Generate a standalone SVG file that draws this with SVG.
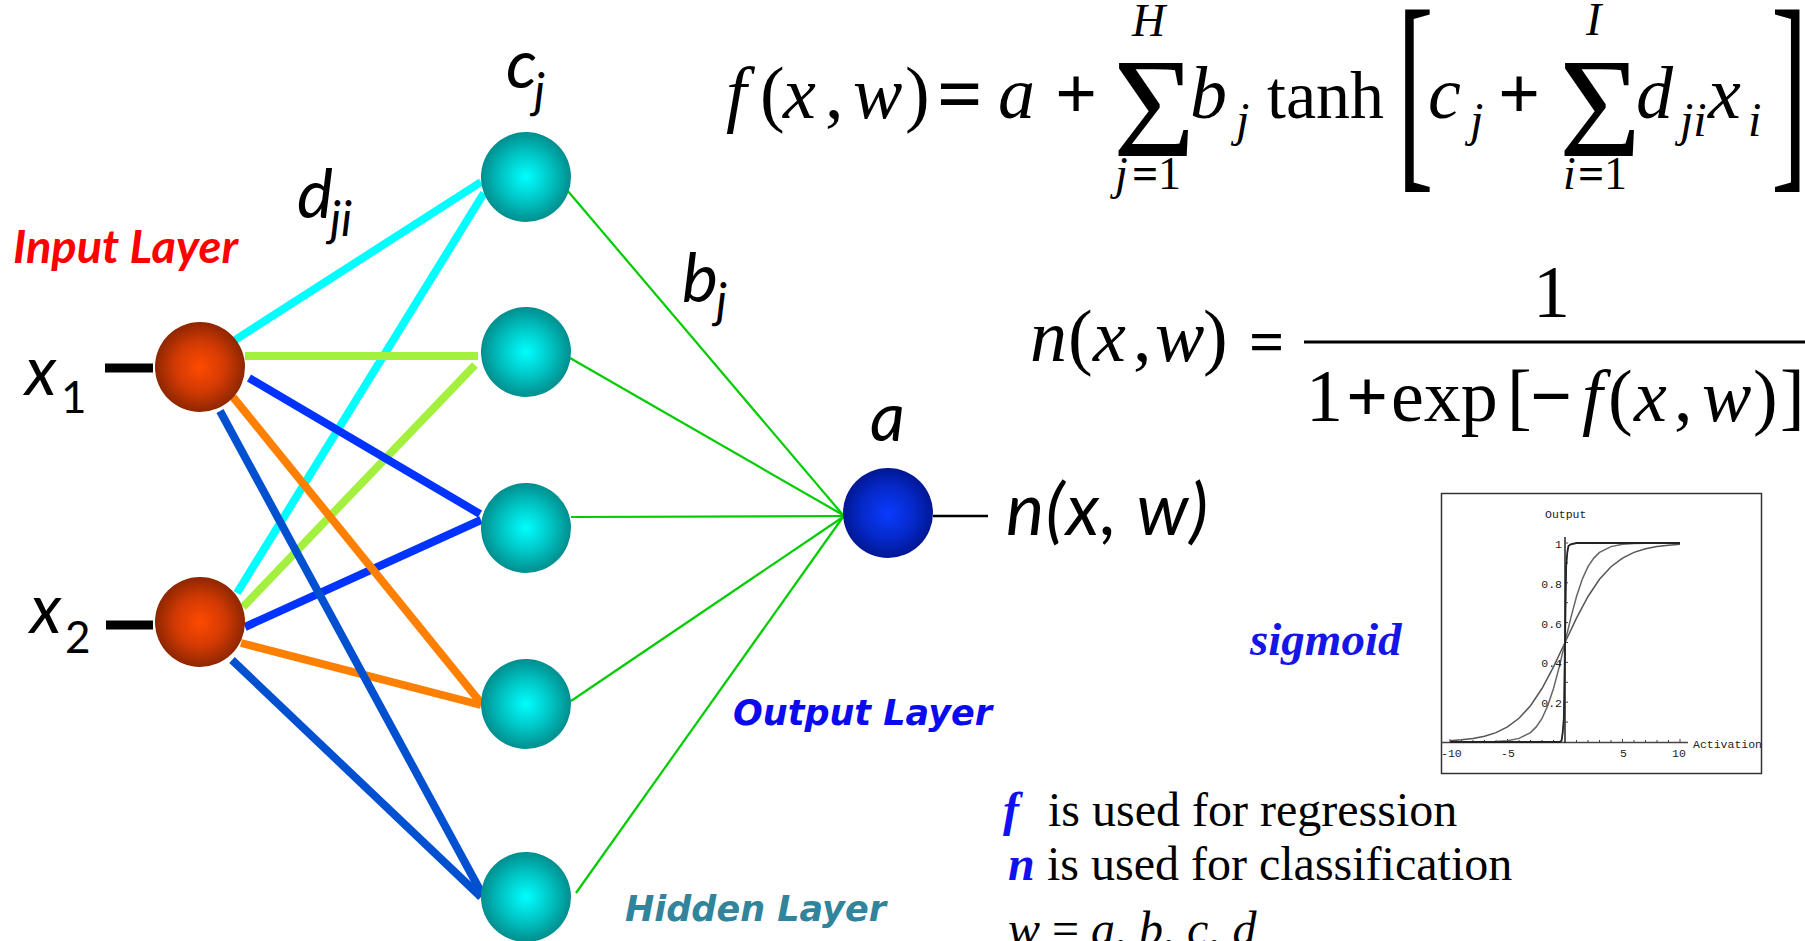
<svg xmlns="http://www.w3.org/2000/svg" width="1805" height="941" viewBox="0 0 1805 941">
<defs>
  <radialGradient id="gIn" cx="50%" cy="50%" r="50%">
    <stop offset="0" stop-color="#FF4A00"/>
    <stop offset="0.55" stop-color="#D23A04"/>
    <stop offset="1" stop-color="#8E2600"/>
  </radialGradient>
  <radialGradient id="gHid" cx="50%" cy="50%" r="50%">
    <stop offset="0" stop-color="#00FFFF"/>
    <stop offset="0.55" stop-color="#00C4C4"/>
    <stop offset="1" stop-color="#008E8E"/>
  </radialGradient>
  <radialGradient id="gOut" cx="50%" cy="50%" r="50%">
    <stop offset="0" stop-color="#0A3CFF"/>
    <stop offset="0.6" stop-color="#0528C8"/>
    <stop offset="1" stop-color="#001894"/>
  </radialGradient>
  <style>
    .lbl { font-family: Lato, "Open Sans", sans-serif; font-style: italic; fill: #000; }
    .big { font-size: 68px; }
    .sub { font-size: 48px; }
    .ser { font-family: "Liberation Serif", "Times New Roman", serif; }
    .it { font-style: italic; }
    .bd { font-weight: bold; }
    .mono { font-family: "Liberation Mono", "Courier New", monospace; font-size: 11.5px; fill: #222; }
    .wide { stroke-width: 8; fill: none; }
    .thin { stroke: #00CC00; stroke-width: 2.2; fill: none; }
    .layer { font-family: "DejaVu Sans", Verdana, sans-serif; font-weight: bold; font-style: oblique; font-size: 35px; }
  </style>
</defs>
<rect width="1805" height="941" fill="#FFFFFF"/>

<!-- connectors -->
<g id="connectors">
  <line class="wide" stroke="#00FFFF" x1="235" y1="340" x2="481" y2="182"/>
  <line class="wide" stroke="#00FFFF" x1="237" y1="593" x2="484" y2="193"/>
  <line class="wide" stroke="#A4F03E" x1="245" y1="356" x2="478" y2="356"/>
  <line class="wide" stroke="#A4F03E" x1="243" y1="607" x2="475" y2="365"/>
  <line class="wide" stroke="#0033FF" x1="249" y1="378" x2="480" y2="514"/>
  <line class="wide" stroke="#0033FF" x1="245" y1="627" x2="481" y2="520"/>
  <line class="wide" stroke="#FF8000" x1="233" y1="397" x2="481" y2="703"/>
  <line class="wide" stroke="#FF8000" x1="241" y1="643" x2="481" y2="705"/>
  <line class="wide" stroke="#0050D0" x1="220" y1="411" x2="481" y2="892"/>
  <line class="wide" stroke="#0050D0" x1="232" y1="660" x2="481" y2="897"/>
  <line class="thin" x1="567" y1="190" x2="843" y2="515"/>
  <line class="thin" x1="570" y1="358" x2="843" y2="515"/>
  <line class="thin" x1="571" y1="517" x2="843" y2="516"/>
  <line class="thin" x1="571" y1="701" x2="843" y2="517"/>
  <line class="thin" x1="576" y1="893" x2="843" y2="517"/>
  <line stroke="#000" stroke-width="9" x1="105" y1="368" x2="153" y2="368"/>
  <line stroke="#000" stroke-width="9" x1="106" y1="625" x2="153" y2="625"/>
  <line stroke="#000" stroke-width="2.5" x1="933" y1="516" x2="988" y2="516"/>
</g>

<!-- input nodes -->
<g id="node-x1">
  <circle cx="200" cy="367" r="45" fill="url(#gIn)"/>
  <text class="lbl big" x="25" y="395">x</text>
  <text class="lbl" x="61" y="413" style="font-style:normal;font-size:44px">1</text>
</g>
<g id="node-x2">
  <circle cx="200" cy="622" r="45" fill="url(#gIn)"/>
  <text class="lbl big" x="30" y="633">x</text>
  <text class="lbl" x="65" y="653" style="font-style:normal;font-size:44px">2</text>
</g>

<!-- hidden nodes -->
<g id="node-h1"><circle cx="526" cy="177" r="45" fill="url(#gHid)"/></g>
<g id="node-h2"><circle cx="526" cy="352" r="45" fill="url(#gHid)"/></g>
<g id="node-h3"><circle cx="526" cy="528" r="45" fill="url(#gHid)"/></g>
<g id="node-h4"><circle cx="526" cy="704" r="45" fill="url(#gHid)"/></g>
<g id="node-h5"><circle cx="526" cy="897" r="45" fill="url(#gHid)"/></g>

<!-- output node -->
<g id="node-out">
  <circle cx="888" cy="513" r="45" fill="url(#gOut)"/>
  <text class="lbl big" x="870" y="441">a</text>
  <text class="lbl" x="1006" y="535" style="font-size:72px" textLength="202" lengthAdjust="spacing">n(x, w)</text>
</g>

<!-- weight labels -->
<g id="labels">
  <text class="lbl big" x="506" y="88">c</text>
  <text class="lbl sub" x="534" y="108">j</text>
  <text class="lbl big" x="297" y="218">d</text>
  <text class="lbl sub" x="330" y="236">ji</text>
  <text class="lbl big" x="682" y="302">b</text>
  <text class="lbl sub" x="716" y="318">j</text>
  <text x="13" y="263" textLength="225" lengthAdjust="spacingAndGlyphs" style="font-family: Lato, 'Open Sans', sans-serif; font-weight: bold; font-style: italic; font-size: 45px; fill: #FF0000">Input Layer</text>
  <text class="layer" x="733" y="725" fill="#0A0AEE">Output Layer</text>
  <text class="layer" x="625" y="921" fill="#31849B">Hidden Layer</text>
</g>

<!-- f equation -->
<g id="eq-f" class="ser" font-size="74" fill="#000">
  <text y="118"><tspan x="726" class="it">f</tspan><tspan x="760">(</tspan><tspan x="783" class="it">x</tspan><tspan x="825">,</tspan><tspan x="853" class="it">w</tspan><tspan x="905">)</tspan></text>
  <text x="937" y="121" font-size="80" class="bd">=</text>
  <text x="998" y="118" class="it">a</text>
  <text x="1055" y="118" class="bd">+</text>
  <text x="1113" y="156" font-size="141">Σ</text>
  <text x="1132" y="36" font-size="46" class="it">H</text>
  <text y="189" font-size="46"><tspan x="1115" class="it">j</tspan><tspan x="1132" class="bd">=</tspan><tspan x="1158">1</tspan></text>
  <text x="1190" y="118" class="it">b</text>
  <text x="1236" y="136" font-size="48" class="it">j</text>
  <text x="1267" y="118" font-size="68">tanh</text>
  <text transform="translate(1397,162) scale(1,2)" font-size="110">[</text>
  <text x="1428" y="118" class="it">c</text>
  <text x="1470" y="136" font-size="48" class="it">j</text>
  <text x="1498" y="118" class="bd">+</text>
  <text x="1559" y="156" font-size="141">Σ</text>
  <text x="1586" y="35" font-size="46" class="it">I</text>
  <text y="189" font-size="46"><tspan x="1563" class="it">i</tspan><tspan x="1578" class="bd">=</tspan><tspan x="1604">1</tspan></text>
  <text x="1636" y="118" class="it">d</text>
  <text x="1680" y="136" font-size="48" class="it">ji</text>
  <text x="1708" y="118" class="it">x</text>
  <text x="1748" y="136" font-size="48" class="it">i</text>
  <text transform="translate(1771,162) scale(1,2)" font-size="110">]</text>
</g>

<!-- n equation -->
<g id="eq-n" class="ser" font-size="74" fill="#000">
  <text y="361"><tspan x="1030" class="it">n</tspan><tspan x="1068">(</tspan><tspan x="1093" class="it">x</tspan><tspan x="1133">,</tspan><tspan x="1155" class="it">w</tspan><tspan x="1203">)</tspan></text>
  <text x="1249" y="362" font-size="62" class="bd">=</text>
  <rect x="1304" y="340.5" width="501" height="3" fill="#000"/>
  <text x="1533" y="317">1</text>
  <text y="421"><tspan x="1306">1</tspan><tspan x="1346" class="bd">+</tspan><tspan x="1391">exp</tspan><tspan x="1507">[</tspan><tspan x="1530" class="bd">−</tspan><tspan x="1582" class="it">f</tspan><tspan x="1608">(</tspan><tspan x="1634" class="it">x</tspan><tspan x="1674">,</tspan><tspan x="1702" class="it">w</tspan><tspan x="1753">)</tspan><tspan x="1780">]</tspan></text>
</g>

<!-- sigmoid plot -->
<g id="sigmoid-plot">
  <text x="1250" y="655" class="ser it bd" font-size="47" style="fill:#1515E8">sigmoid</text>
  <rect x="1441.5" y="493.5" width="320" height="280" fill="#FFFFFF" stroke="#333" stroke-width="1.5"/>
  <line x1="1441" y1="742.5" x2="1688" y2="742.5" stroke="#444" stroke-width="1.5"/>
  <line x1="1565" y1="537" x2="1565" y2="743" stroke="#222" stroke-width="1.5"/>
  <path d="M1450 742v-3M1461.5 742v-2M1473 742v-2M1484.5 742v-2M1496 742v-2M1507.5 742v-3M1519 742v-2M1530.5 742v-2M1542 742v-2M1553.5 742v-2M1576.5 742v-2M1588 742v-2M1599.5 742v-2M1611 742v-2M1622.5 742v-3M1634 742v-2M1645.5 742v-2M1657 742v-2M1668.5 742v-2M1680 742v-3" stroke="#444" stroke-width="1"/>
  <path d="M1565 722.1h3M1565 702.2h3M1565 682.3h3M1565 662.4h3M1565 642.5h3M1565 622.6h3M1565 602.7h3M1565 582.8h3M1565 562.9h3M1565 543h3" stroke="#444" stroke-width="1"/>
  <path d="M1450 740.7L1461.5 739.8L1473 738.4L1484.5 736.2L1496 732.6L1507.5 726.9L1519 718.3L1530.5 705.7L1542 688.5L1553.5 666.9L1565 642.5L1576.5 618.1L1588 596.5L1599.5 579.3L1611 566.7L1622.5 558.1L1634 552.4L1645.5 548.8L1657 546.6L1668.5 545.2L1680 544.3" fill="none" stroke="#555" stroke-width="1.5"/>
  <path d="M1450 742L1473 741.9L1496 741.5L1507.5 740.7L1519 738.4L1530.5 732.6L1536.25 726.9L1542 718.3L1547.75 705.7L1553.5 688.5L1559.25 666.9L1565 642.5L1570.75 618.1L1576.5 596.5L1582.25 579.3L1588 566.7L1593.75 558.1L1599.5 552.4L1611 546.6L1622.5 544.3L1634 543.5L1657 543.1L1680 543" fill="none" stroke="#666" stroke-width="1.5"/>
  <path d="M1450 742L1559.25 742L1561.55 740.7L1562.7 732.6L1563.85 718.3L1565 642.5L1566.15 566.7L1567.3 552.4L1568.45 546L1570.75 544.3L1576.5 543L1680 543" fill="none" stroke="#222" stroke-width="1.8"/>
  <text class="mono" x="1545" y="518">Output</text>
  <text class="mono" x="1693" y="748">Activation</text>
  <text class="mono" x="1441" y="757">-10</text>
  <text class="mono" x="1501" y="757">-5</text>
  <text class="mono" x="1620" y="757">5</text>
  <text class="mono" x="1672" y="757">10</text>
  <g class="mono" text-anchor="end">
    <text x="1562" y="548">1</text>
    <text x="1562" y="588">0.8</text>
    <text x="1562" y="628">0.6</text>
    <text x="1562" y="667">0.4</text>
    <text x="1562" y="707">0.2</text>
  </g>
</g>

<!-- notes -->
<g id="notes" class="ser" font-size="48" fill="#000">
  <text y="826"><tspan x="1003" class="it bd" fill="#1010F0">f</tspan><tspan x="1048">is used for regression</tspan></text>
  <text y="880"><tspan x="1008" class="it bd" fill="#1010F0">n</tspan><tspan x="1047">is used for classification</tspan></text>
  <text y="945" x="1008"><tspan class="it">w</tspan> = <tspan class="it">a</tspan>, <tspan class="it">b</tspan>, <tspan class="it">c</tspan>, <tspan class="it">d</tspan></text>
</g>
</svg>
